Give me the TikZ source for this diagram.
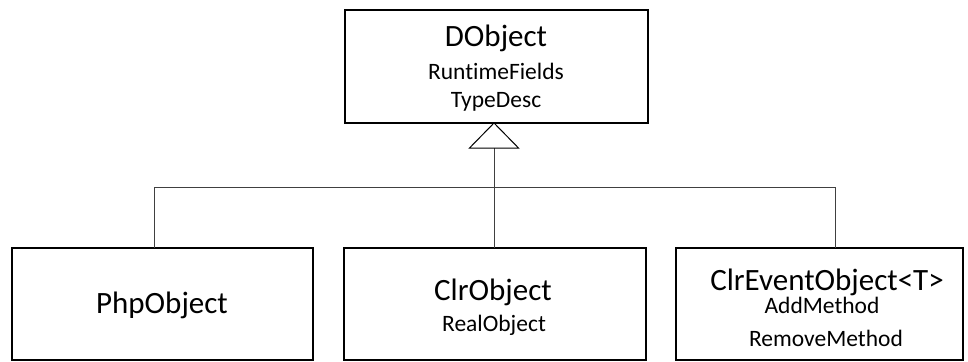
\documentclass[tikz,border=0pt]{standalone}
\usepackage{fontspec}
\setmainfont{Carlito}[Ligatures=NoCommon]
\begin{document}
\begin{tikzpicture}[x=1pt,y=-1pt,
  classbox/.style={draw=black,line width=1.6pt,minimum width=#1,minimum height=112pt,inner sep=0pt,outer sep=0pt},
  big/.style={font=\fontsize{31}{36}\selectfont,inner sep=0pt,anchor=base},
  small/.style={font=\fontsize{23.5}{28}\selectfont,inner sep=0pt,anchor=base},
  conn/.style={draw=black!75,line width=1pt}]
\useasboundingbox[fill=white] (0,0) rectangle (968,361);
% boxes
\node[classbox=303pt,minimum height=113pt] (dobj) at (496.5,66.5) {};
\node[classbox=301pt] (php) at (162.5,304) {};
\node[classbox=302pt] (clr) at (495,304) {};
\node[classbox=287pt] (evt) at (819.5,304) {};
% texts
\node[big] (t1) at (496,47) {DObject};
\node[small] (t2) at (496,79) {RuntimeFields};
\node[small] (t3) at (496,107) {TypeDesc};
\node[big] (t4) at (162,313) {PhpObject};
\node[big] (t5) at (493,300.5) {ClrObject};
\node[small] (t6) at (494,331.5) {RealObject};
\node[big,text depth=3pt] (t7) at (827,290) {ClrEventObject<T>};
\node[small] (t8) at (822,313.5) {AddMethod};
\node[small] (t9) at (826,346.7) {RemoveMethod};
% connectors
\coordinate (apex) at (494,123);
\coordinate (base) at (494,148);
\coordinate (jl) at (154,187);
\coordinate (jr) at (835,187);
\draw[conn] (base) -- (base |- clr.north);
\draw[conn] (jl) -- (jr);
\draw[conn] (jl) -- (jl |- php.north);
\draw[conn] (jr) -- (jr |- evt.north);
\draw[line width=1pt,fill=white] (apex) -- ([xshift=-24.5pt]base) -- ([xshift=24.5pt]base) -- cycle;
\end{tikzpicture}
\end{document}
